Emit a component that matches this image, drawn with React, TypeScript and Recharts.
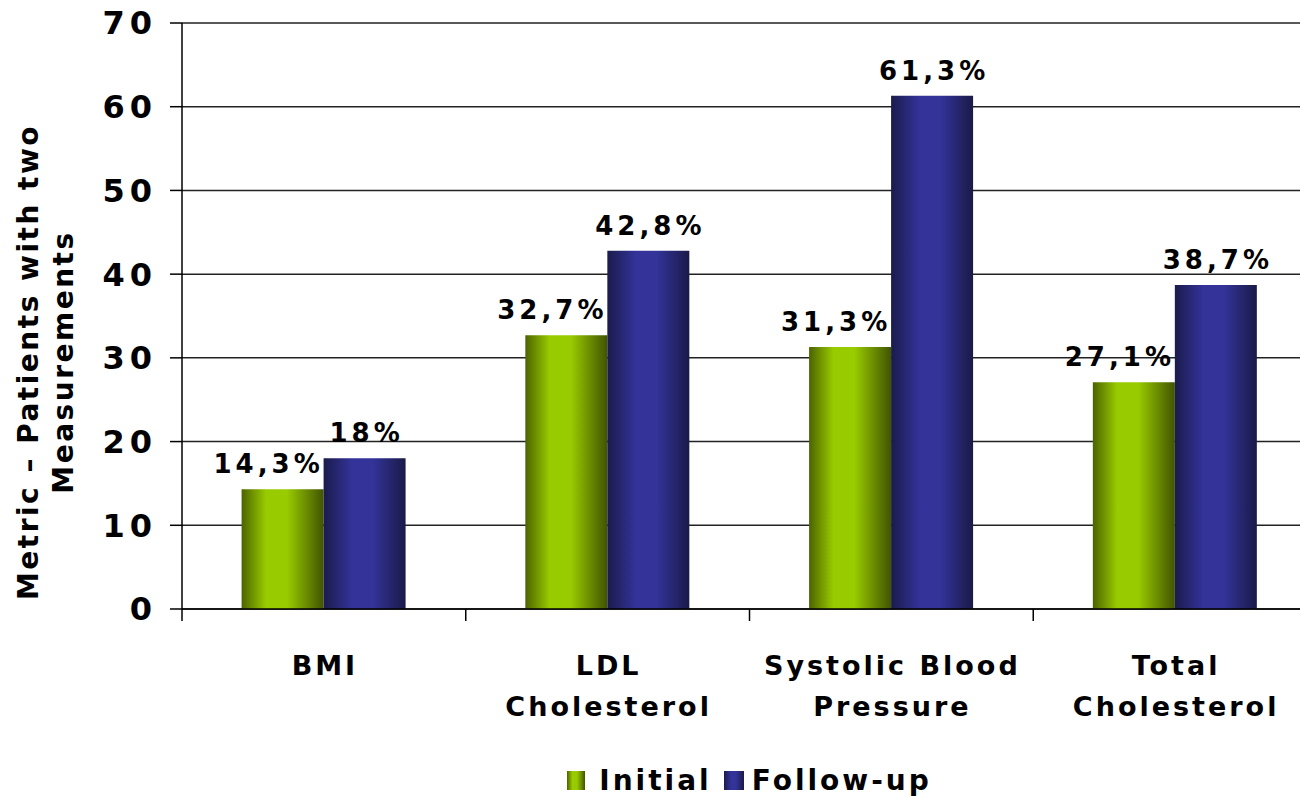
import React from 'react';
import {
  BarChart,
  Bar,
  XAxis,
  YAxis,
  CartesianGrid,
  Legend,
  LabelList,
  Label,
} from 'recharts';

const categories = ['BMI', 'LDL\nCholesterol', 'Systolic Blood\nPressure', 'Total\nCholesterol'];
const initialValues = [14.3, 32.7, 31.3, 27.1];
const followUpValues = [18, 42.8, 61.3, 38.7];
const yTicks = [0, 10, 20, 30, 40, 50, 60, 70];
const boundaryTicks = [0, 1, 2, 3, 4];

const FONT = '"DejaVu Sans", Verdana, sans-serif';

const data = categories.map((name, i) => ({
  name,
  slot: i + 0.5,
  initial: initialValues[i],
  followUp: followUpValues[i],
}));

const fmt = (v: number) => String(v).replace('.', ',') + '%';

const makeLabel = (shift: number) => (props: any) => {
  const { x, y, width, value } = props;
  return (
    <text
      x={x + width / 2 + shift}
      y={y - 16}
      textAnchor="middle"
      fontFamily={FONT}
      fontWeight="bold"
      fontSize={26}
      letterSpacing={4}
      fill="#000"
    >
      {fmt(value)}
    </text>
  );
};

const CategoryTick = (props: any) => {
  const { x, y, payload } = props;
  const lines = String(payload.value).split('\n');
  return (
    <text
      x={x}
      y={y + 57}
      textAnchor="middle"
      fontFamily={FONT}
      fontWeight="bold"
      fontSize={27}
      letterSpacing={3}
      fill="#000"
    >
      {lines.map((l, i) => (
        <tspan key={i} x={x + 1} dy={i === 0 ? 0 : 41}>
          {l}
        </tspan>
      ))}
    </text>
  );
};

const YTitle = (props: any) => {
  const vb = props.viewBox;
  const cx = vb.x + 47;
  const cy = vb.y + vb.height / 2 + 46;
  return (
    <text
      transform={`translate(${cx},${cy}) rotate(-90)`}
      textAnchor="middle"
      fontFamily={FONT}
      fontWeight="bold"
      fontSize={28}
      letterSpacing={2.5}
      fill="#000"
    >
      <tspan x={0} dy={-9}>Metric – Patients with two</tspan>
      <tspan x={0} dy={35}>Measurements</tspan>
    </text>
  );
};

const NoTick = () => <g />;

const LegendContent = () => (
  <div
    style={{
      display: 'flex',
      justifyContent: 'center',
      alignItems: 'center',
      fontFamily: FONT,
      fontWeight: 'bold',
      fontSize: 28,
      color: '#000',
      paddingTop: 16,
      letterSpacing: 3,
    }}
  >
    <svg width={18} height={19} style={{ marginRight: 14 }}>
      <rect width={18} height={19} fill="url(#gGreen)" />
    </svg>
    <span style={{ marginRight: 12 }}>Initial</span>
    <svg width={20} height={19} style={{ marginRight: 8 }}>
      <rect width={20} height={19} fill="url(#gBlue)" />
    </svg>
    <span>Follow-up</span>
  </div>
);

export default function App() {
  return (
    <div
      style={{
        position: 'absolute',
        left: 0,
        top: 0,
        width: 1300,
        height: 798,
        overflow: 'hidden',
        background: '#fff',
      }}
    >
      <BarChart
        width={1330}
        height={798}
        data={data}
        margin={{ top: 23, right: 13, left: 0, bottom: 0 }}
        barCategoryGap="21%"
        barGap={0}
      >
        <defs>
          <linearGradient id="gGreen" x1="0" y1="0" x2="1" y2="0">
            <stop offset="0%" stopColor="#4d6300" />
            <stop offset="30%" stopColor="#99cc00" />
            <stop offset="55%" stopColor="#99cc00" />
            <stop offset="100%" stopColor="#415400" />
          </linearGradient>
          <linearGradient id="gBlue" x1="0" y1="0" x2="1" y2="0">
            <stop offset="0%" stopColor="#1b1b4d" />
            <stop offset="35%" stopColor="#333399" />
            <stop offset="60%" stopColor="#333399" />
            <stop offset="100%" stopColor="#1a1a48" />
          </linearGradient>
        </defs>
        <CartesianGrid vertical={false} stroke="#222" strokeWidth={1.5} />
        <XAxis
          xAxisId="bound"
          type="number"
          dataKey="slot"
          domain={[0, 4]}
          ticks={boundaryTicks}
          allowDataOverflow
          height={1}
          tick={<NoTick />}
          tickSize={12}
          interval={0}
          axisLine={{ stroke: '#000', strokeWidth: 1.5 }}
          tickLine={{ stroke: '#000', strokeWidth: 1.5 }}
        />
        <XAxis
          xAxisId="cat"
          dataKey="name"
          height={138}
          axisLine={false}
          tickLine={false}
          tick={<CategoryTick />}
          interval={0}
        />
        <YAxis
          width={182}
          domain={[0, 70]}
          ticks={yTicks}
          tickSize={12}
          tickMargin={13}
          axisLine={{ stroke: '#000', strokeWidth: 1.5 }}
          tickLine={{ stroke: '#000', strokeWidth: 1.5 }}
          tick={{ fontFamily: FONT, fontWeight: 'bold', fontSize: 32, letterSpacing: 5, fill: '#000' }}
        >
          <Label content={<YTitle />} />
        </YAxis>
        <Legend
          verticalAlign="bottom"
          height={50}
          wrapperStyle={{ left: 182, width: 1135 }}
          content={<LegendContent />}
        />
        <Bar xAxisId="cat" dataKey="initial" name="Initial" fill="url(#gGreen)" isAnimationActive={false}>
          <LabelList dataKey="initial" content={makeLabel(-14)} />
        </Bar>
        <Bar xAxisId="cat" dataKey="followUp" name="Follow-up" fill="url(#gBlue)" isAnimationActive={false}>
          <LabelList dataKey="followUp" content={makeLabel(2)} />
        </Bar>
      </BarChart>
    </div>
  );
}
